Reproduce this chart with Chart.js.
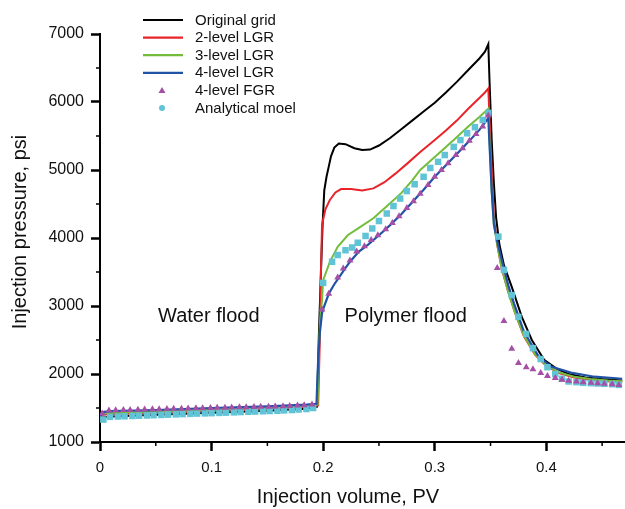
<!DOCTYPE html>
<html>
<head>
<meta charset="utf-8">
<script src="https://cdn.jsdelivr.net/npm/chart.js@4.4.1/dist/chart.umd.min.js"></script>
<style>
  html, body { margin: 0; padding: 0; background: #fff; }
  #wrap { width: 625px; height: 509px; position: relative; }
</style>
</head>
<body>
<div id="wrap"><canvas id="c" width="625" height="509"></canvas></div>
<script>
// ---- Data ----
const seriesNames = ["Original grid", "2-level LGR", "3-level LGR", "4-level LGR", "4-level FGR", "Analytical moel"];

const xTicks = [0, 0.1, 0.2, 0.3, 0.4];
const yTicks = [1000, 2000, 3000, 4000, 5000, 6000, 7000];
const xMinorTicks = [0.05, 0.15, 0.25, 0.35, 0.45];
const yMinorTicks = [1500, 2500, 3500, 4500, 5500, 6500];

const blackX = [0, 0.002, 0.01, 0.05, 0.10, 0.15, 0.185, 0.1945, 0.196, 0.198, 0.1995, 0.201, 0.203, 0.205, 0.207, 0.210, 0.214, 0.220, 0.228, 0.235, 0.242, 0.250, 0.260, 0.270, 0.280, 0.290, 0.300, 0.310, 0.320, 0.330, 0.340, 0.345, 0.348, 0.349, 0.351, 0.353, 0.355, 0.358, 0.362, 0.369, 0.378, 0.387, 0.398, 0.410, 0.420, 0.435, 0.450, 0.468];
const blackY = [1300, 1360, 1375, 1400, 1430, 1460, 1490, 1520, 2500, 3500, 4200, 4700, 4900, 5050, 5200, 5330, 5390, 5380, 5320, 5295, 5300, 5360, 5470, 5600, 5730, 5860, 5990, 6140, 6300, 6470, 6640, 6740, 6850, 6350, 5450, 4800, 4300, 3900, 3600, 3280, 2840, 2500, 2210, 2070, 2000, 1950, 1925, 1905];

const redX = [0, 0.002, 0.01, 0.05, 0.10, 0.15, 0.185, 0.1955, 0.197, 0.198, 0.199, 0.202, 0.206, 0.211, 0.216, 0.225, 0.235, 0.245, 0.255, 0.265, 0.275, 0.287, 0.300, 0.310, 0.320, 0.330, 0.340, 0.345, 0.348, 0.349, 0.351, 0.353, 0.356, 0.360, 0.366, 0.372, 0.380, 0.390, 0.400, 0.412, 0.425, 0.440, 0.455, 0.468];
const redY = [1320, 1400, 1410, 1430, 1460, 1490, 1520, 1540, 2500, 3500, 4200, 4420, 4560, 4670, 4720, 4720, 4700, 4730, 4820, 4950, 5090, 5265, 5440, 5580, 5730, 5900, 6060, 6140, 6200, 5800, 5000, 4300, 3900, 3550, 3200, 2900, 2550, 2280, 2120, 2010, 1950, 1910, 1895, 1885];

const greenX = [0, 0.002, 0.01, 0.05, 0.10, 0.15, 0.185, 0.195, 0.196, 0.197, 0.199, 0.200, 0.206, 0.213, 0.222, 0.232, 0.245, 0.258, 0.270, 0.280, 0.287, 0.300, 0.317, 0.330, 0.340, 0.348, 0.349, 0.351, 0.353, 0.356, 0.360, 0.366, 0.372, 0.380, 0.390, 0.400, 0.412, 0.425, 0.440, 0.455, 0.468];
const greenY = [1330, 1420, 1430, 1445, 1475, 1505, 1530, 1550, 2300, 2700, 3100, 3380, 3650, 3870, 4040, 4150, 4290, 4480, 4660, 4850, 5000, 5190, 5440, 5640, 5780, 5900, 5500, 4700, 4200, 3900, 3560, 3200, 2900, 2560, 2290, 2130, 2020, 1960, 1925, 1905, 1895];

const blueX = [0, 0.002, 0.01, 0.05, 0.10, 0.15, 0.185, 0.194, 0.1955, 0.197, 0.199, 0.201, 0.205, 0.210, 0.215, 0.220, 0.225, 0.232, 0.240, 0.250, 0.260, 0.270, 0.280, 0.290, 0.300, 0.310, 0.320, 0.330, 0.340, 0.346, 0.348, 0.349, 0.351, 0.353, 0.356, 0.360, 0.366, 0.371, 0.380, 0.393, 0.404, 0.422, 0.443, 0.468];
const blueY = [1340, 1440, 1455, 1470, 1500, 1525, 1550, 1560, 2200, 2600, 2900, 3000, 3180, 3320, 3440, 3560, 3670, 3800, 3900, 4040, 4190, 4350, 4530, 4710, 4900, 5070, 5240, 5410, 5590, 5720, 5765, 5400, 4700, 4200, 3950, 3680, 3300, 3040, 2620, 2260, 2110, 2020, 1960, 1930];

const fgrX = [0.002, 0.008, 0.014, 0.021, 0.027, 0.034, 0.040, 0.047, 0.053, 0.060, 0.066, 0.073, 0.079, 0.086, 0.092, 0.099, 0.105, 0.112, 0.118, 0.125, 0.131, 0.138, 0.144, 0.151, 0.157, 0.164, 0.170, 0.177, 0.183, 0.190,
  0.199, 0.205, 0.213, 0.218, 0.224, 0.230, 0.237, 0.243, 0.249, 0.256, 0.262, 0.268, 0.275, 0.281, 0.287, 0.294, 0.300, 0.306, 0.312, 0.319, 0.325, 0.331, 0.337, 0.343, 0.348,
  0.356, 0.362, 0.369, 0.375, 0.382, 0.388, 0.395, 0.401, 0.408, 0.414, 0.420, 0.427, 0.433, 0.440, 0.446, 0.452, 0.459, 0.465];
const fgrY = [1420, 1465, 1468, 1470, 1472, 1475, 1478, 1480, 1483, 1486, 1488, 1490, 1493, 1495, 1497, 1500, 1502, 1505, 1507, 1510, 1512, 1515, 1518, 1520, 1523, 1526, 1530, 1535, 1540, 1550,
  2950, 3180, 3420, 3550, 3670, 3800, 3880, 3970, 4040, 4130, 4220, 4320, 4440, 4540, 4650, 4780, 4900, 5000, 5100, 5220, 5320, 5430, 5530, 5640, 5800,
  3560, 2780, 2370, 2160, 2100, 2070, 2015, 1970, 1940, 1915, 1900, 1890, 1880, 1870, 1865, 1855, 1850, 1840];

const anaX = [0.003, 0.009, 0.016, 0.022, 0.029, 0.035, 0.042, 0.048, 0.055, 0.061, 0.068, 0.074, 0.081, 0.087, 0.094, 0.100, 0.107, 0.113, 0.120, 0.126, 0.133, 0.139, 0.146, 0.152, 0.159, 0.165, 0.172, 0.178, 0.185, 0.191,
  0.200, 0.208, 0.213, 0.220, 0.226, 0.231, 0.238, 0.244, 0.250, 0.257, 0.263, 0.269, 0.275, 0.282, 0.290, 0.296, 0.303, 0.309, 0.317, 0.323, 0.329, 0.336, 0.343, 0.348,
  0.357, 0.362, 0.369, 0.375, 0.382, 0.388, 0.395, 0.401, 0.408, 0.414, 0.420, 0.427, 0.433, 0.440, 0.446, 0.452, 0.459, 0.465];
const anaY = [1330, 1370, 1375, 1378, 1382, 1386, 1390, 1394, 1398, 1402, 1406, 1410, 1414, 1418, 1421, 1424, 1428, 1432, 1436, 1440, 1444, 1448, 1452, 1456, 1460, 1465, 1470, 1478, 1485, 1500,
  3340, 3650, 3750, 3820, 3860, 3930, 4030, 4140, 4250, 4360, 4470, 4580, 4690, 4790, 4900, 5030, 5120, 5220, 5340, 5440, 5540, 5630, 5735, 5840,
  4020, 3530, 3160, 2840, 2590, 2380, 2220, 2100, 2000, 1930, 1890, 1880, 1870, 1865, 1860, 1855, 1850, 1840];

const annotations = [
  { text: "Water flood", x: 0.0975, y: 2840 },
  { text: "Polymer flood", x: 0.2740, y: 2840 }
];

// ---- Build ----
const pts = (xs, ys) => xs.map((x, i) => ({ x: x, y: ys[i] }));
const FONT = '"Liberation Sans", Arial, Helvetica, sans-serif';

const colors = {
  black: '#000000', red: '#e8242a', green: '#74bd3c', blue: '#2152a6', purple: '#a550a6', cyan: '#60c3d6'
};

const datasets = [
  { label: seriesNames[5], data: pts(anaX, anaY), showLine: false, pointStyle: 'rect', pointRadius: 4.6,
    backgroundColor: colors.cyan, borderColor: colors.cyan, borderWidth: 0, order: 1, legendStyle: 'circle' },
  { label: seriesNames[4], data: pts(fgrX, fgrY), showLine: false, pointStyle: 'triangle', pointRadius: 4,
    backgroundColor: colors.purple, borderColor: colors.purple, borderWidth: 0, order: 0, legendStyle: 'triangle' },
  { label: seriesNames[3], data: pts(blueX, blueY), showLine: true, pointRadius: 0, borderColor: colors.blue, borderWidth: 2.2, order: 2, legendStyle: 'line' },
  { label: seriesNames[2], data: pts(greenX, greenY), showLine: true, pointRadius: 0, borderColor: colors.green, borderWidth: 2, order: 3, legendStyle: 'line' },
  { label: seriesNames[1], data: pts(redX, redY), showLine: true, pointRadius: 0, borderColor: colors.red, borderWidth: 2, order: 4, legendStyle: 'line' },
  { label: seriesNames[0], data: pts(blackX, blackY), showLine: true, pointRadius: 0, borderColor: colors.black, borderWidth: 2, order: 5, legendStyle: 'line' }
];

const legendOrder = [seriesNames[0], seriesNames[1], seriesNames[2], seriesNames[3], seriesNames[4], seriesNames[5]];

const customDraw = {
  id: 'customDraw',
  afterDraw(chart) {
    const ctx = chart.ctx;
    const xs = chart.scales.x, ys = chart.scales.y;
    ctx.save();
    // minor ticks
    ctx.strokeStyle = '#000';
    ctx.lineWidth = 1.5;
    xMinorTicks.forEach(v => {
      const px = xs.getPixelForValue(v);
      ctx.beginPath(); ctx.moveTo(px, ys.bottom); ctx.lineTo(px, ys.bottom + 4); ctx.stroke();
    });
    yMinorTicks.forEach(v => {
      const py = ys.getPixelForValue(v);
      ctx.beginPath(); ctx.moveTo(xs.left, py); ctx.lineTo(xs.left - 4, py); ctx.stroke();
    });
    // annotations
    ctx.fillStyle = '#111';
    ctx.font = '20px ' + FONT;
    ctx.textAlign = 'center';
    ctx.textBaseline = 'middle';
    annotations.forEach(a => {
      ctx.fillText(a.text, xs.getPixelForValue(a.x), ys.getPixelForValue(a.y));
    });
    // axis titles
    ctx.fillText('Injection volume, PV', 348, 497);
    ctx.save();
    ctx.translate(20, 232);
    ctx.rotate(-Math.PI / 2);
    ctx.fillText('Injection pressure, psi', 0, 0);
    ctx.restore();
    // legend
    ctx.font = '15px ' + FONT;
    ctx.textAlign = 'left';
    const rowY0 = 20, rowH = 17.6;
    legendOrder.forEach((name, i) => {
      const ds = chart.data.datasets.find(d => d.label === name);
      const y = rowY0 + i * rowH;
      if (ds.legendStyle === 'line') {
        ctx.strokeStyle = ds.borderColor; ctx.lineWidth = 2.2;
        ctx.beginPath(); ctx.moveTo(143, y); ctx.lineTo(183, y); ctx.stroke();
      } else if (ds.legendStyle === 'triangle') {
        ctx.fillStyle = ds.backgroundColor;
        ctx.beginPath(); ctx.moveTo(162, y - 3.5); ctx.lineTo(165.5, y + 2.5); ctx.lineTo(158.5, y + 2.5); ctx.closePath(); ctx.fill();
      } else {
        ctx.fillStyle = ds.backgroundColor;
        ctx.beginPath(); ctx.arc(162, y, 3, 0, Math.PI * 2); ctx.fill();
      }
      ctx.fillStyle = '#111';
      ctx.fillText(name, 195, y + 0.5);
    });
    ctx.restore();
  }
};

new Chart(document.getElementById('c'), {
  type: 'scatter',
  data: { datasets: datasets },
  options: {
    responsive: false,
    animation: false,
    events: [],
    layout: { autoPadding: false, padding: { top: 34, right: 0, left: 0, bottom: 0 } },
    plugins: { legend: { display: false }, tooltip: { enabled: false } },
    elements: { line: { tension: 0 } },
    scales: {
      x: {
        type: 'linear', min: 0, max: 0.4705,
        afterFit: s => { s.height = 67; s.paddingRight = 0; s.paddingLeft = 0; },
        afterBuildTicks: s => { s.ticks = xTicks.map(v => ({ value: v })); },
        border: { display: true, color: '#000', width: 2 },
        grid: { drawOnChartArea: false, drawTicks: true, tickLength: 9, tickWidth: 2.5, tickColor: '#000' },
        ticks: { color: '#111', font: { family: FONT, size: 15 }, padding: 8, maxRotation: 0,
          callback: v => (v === 0 ? '0' : String(Math.round(v * 10) / 10)) }
      },
      y: {
        type: 'linear', min: 1000, max: 7000,
        afterFit: s => { s.width = 100; },
        afterBuildTicks: s => { s.ticks = yTicks.map(v => ({ value: v })); },
        border: { display: true, color: '#000', width: 2 },
        grid: { drawOnChartArea: false, drawTicks: true, tickLength: 9, tickWidth: 2.5, tickColor: '#000' },
        ticks: { color: '#111', font: { family: FONT, size: 16 }, padding: 7, callback: v => String(v) }
      }
    }
  },
  plugins: [customDraw]
});
</script>
</body>
</html>
